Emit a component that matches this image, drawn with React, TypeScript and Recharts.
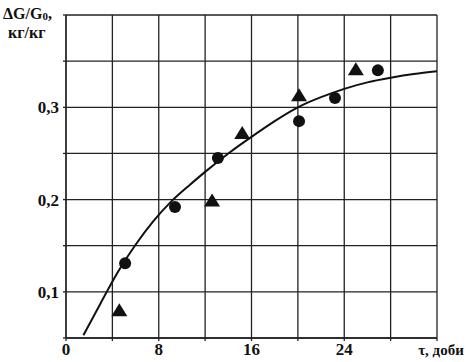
import { CartesianGrid, ComposedChart, Label, Line, Scatter, XAxis, YAxis } from "recharts";

// fitted curve
const curveT = [1.5, 3, 4.5, 6, 7.5, 9, 10.5, 12, 14, 16, 18, 20, 22, 24, 26, 28, 30, 32];
const curveV = [0.053, 0.088, 0.122, 0.151, 0.176, 0.197, 0.214, 0.23, 0.25, 0.268, 0.285, 0.3, 0.311, 0.32, 0.327, 0.332, 0.336, 0.339];

// measured points
const circleT = [5.1, 9.4, 13.1, 20.1, 23.2, 26.9];
const circleV = [0.131, 0.192, 0.245, 0.285, 0.31, 0.34];
const triangleT = [4.6, 12.6, 15.2, 20.1, 25.0];
const triangleV = [0.079, 0.198, 0.271, 0.312, 0.34];

const xTicks = [0, 4, 8, 12, 16, 20, 24, 28, 32];
const xTickLabels: Record<number, string> = { 0: "0", 8: "8", 16: "16", 24: "24" };
const xTitle = "τ, доби";
const yTicks = [0.05, 0.1, 0.15, 0.2, 0.25, 0.3, 0.35, 0.4];
const yTickLabels: Record<string, string> = { "0.1": "0,1", "0.2": "0,2", "0.3": "0,3" };

const curve = curveT.map((t, i) => ({ t, v: curveV[i] }));
const circles = circleT.map((t, i) => ({ t, v: circleV[i] }));
const triangles = triangleT.map((t, i) => ({ t, v: triangleV[i] }));

const font = "'Liberation Serif', 'Times New Roman', serif";
const ink = "#111";
const tickStyle = { fontFamily: font, fontWeight: 700, fontSize: 17, fill: ink };

const Dot = (p: any) => <circle cx={p.cx} cy={p.cy} r={6} fill={ink} />;
const Tri = (p: any) => (
  <polygon
    points={`${p.cx},${p.cy - 8} ${p.cx - 8},${p.cy + 5} ${p.cx + 8},${p.cy + 5}`}
    fill={ink}
  />
);

// x ticks: numbers every 8, the axis title sits under the last grid line
const XTick = (p: any) => {
  const v = p.payload.value;
  if (v === 32) {
    return (
      <text x={p.x + 4} y={p.y + 12} textAnchor="middle" style={{ ...tickStyle, fontSize: 15 }}>
        {xTitle}
      </text>
    );
  }
  return (
    <text x={p.x} y={p.y + 12} textAnchor="middle" style={tickStyle}>
      {xTickLabels[v] ?? ""}
    </text>
  );
};

const YTitle = () => (
  <g style={{ fontFamily: font, fontWeight: 700, fill: ink }}>
    <text x={3} y={19} fontSize={16}>
      ΔG/G<tspan fontSize={11} dy={1}>0</tspan>
      <tspan dy={-1}>,</tspan>
    </text>
    <text x={8} y={38} fontSize={16}>
      кг/кг
    </text>
  </g>
);

export default function App() {
  return (
    <div style={{ position: "absolute", left: 0, top: 0, background: "#fff" }}>
      <ComposedChart width={476} height={362} margin={{ top: 15, right: 39, bottom: 0, left: 0 }}>
        <CartesianGrid stroke="#222" strokeWidth={1.3} />
        <XAxis
          type="number"
          dataKey="t"
          domain={[0, 32]}
          ticks={xTicks}
          interval={0}
          height={24}
          tickSize={3}
          tickMargin={2}
          stroke="#222"
          strokeWidth={1.3}
          tick={XTick}
        />
        <YAxis
          type="number"
          dataKey="v"
          domain={[0.05, 0.4]}
          ticks={yTicks}
          interval={0}
          width={66}
          tickSize={3}
          tickMargin={4}
          stroke="#222"
          strokeWidth={1.3}
          tick={tickStyle}
          tickFormatter={(v: number) => yTickLabels[String(v)] ?? ""}
        >
          <Label content={YTitle} />
        </YAxis>
        <Line
          data={curve}
          dataKey="v"
          type="natural"
          stroke={ink}
          strokeWidth={2}
          dot={false}
          isAnimationActive={false}
        />
        <Scatter data={circles} dataKey="v" shape={Dot} isAnimationActive={false} />
        <Scatter data={triangles} dataKey="v" shape={Tri} isAnimationActive={false} />
      </ComposedChart>
    </div>
  );
}
